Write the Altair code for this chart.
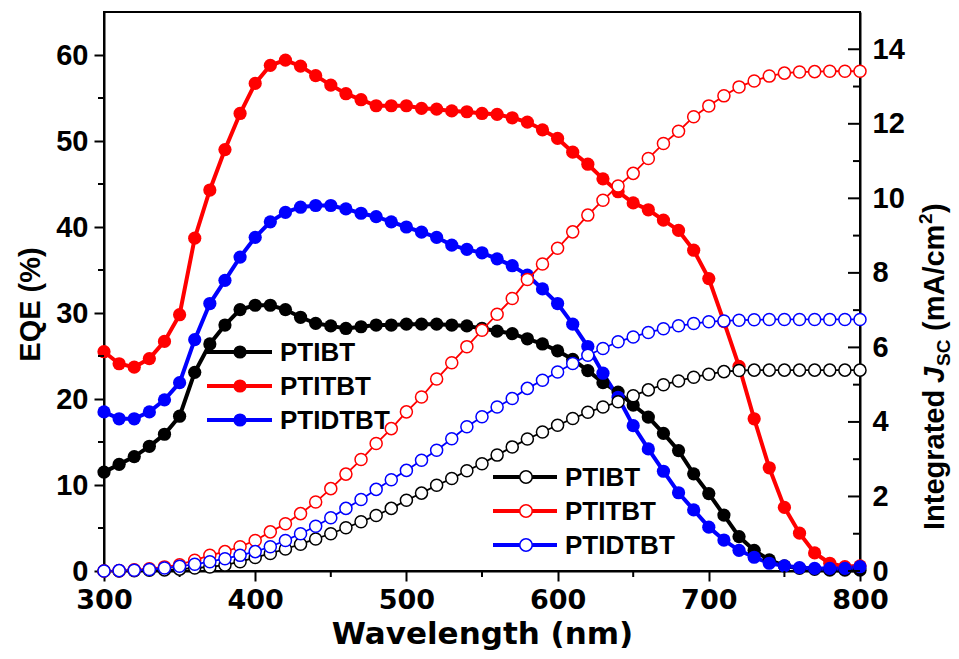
import altair as alt
import pandas as pd

wavelength = list(range(300, 801, 10))
names = ["PTIBT", "PTITBT", "PTIDTBT"]
colors = ["#000000", "#ff0000", "#0000ff"]

eqe_ptibt = [11.5, 12.4, 13.3, 14.5, 15.9, 18.0, 23.1, 26.4, 28.6, 30.4, 30.9, 30.9, 30.4, 29.5, 28.8,
             28.5, 28.2, 28.4, 28.6, 28.6, 28.7, 28.7, 28.7, 28.6, 28.5, 28.2, 27.9, 27.6, 27.0, 26.4,
             25.6, 24.6, 23.3, 21.9, 20.8, 19.3, 17.9, 16.0, 14.0, 11.3, 9.0, 6.5, 4.0, 2.4, 1.3,
             0.6, 0.3, 0.2, 0.1, 0.1, 0.1]
eqe_ptitbt = [25.5, 24.1, 23.7, 24.7, 26.7, 29.8, 38.7, 44.3, 49.0, 53.2, 56.7, 58.8, 59.4, 58.7, 57.6,
              56.5, 55.5, 54.8, 54.1, 54.1, 54.1, 53.8, 53.7, 53.5, 53.4, 53.2, 53.1, 52.7, 52.2, 51.3,
              50.3, 48.7, 47.3, 45.6, 44.1, 42.8, 42.0, 40.8, 39.6, 37.3, 34.0, 29.0, 23.8, 17.7, 12.0,
              7.4, 4.4, 2.1, 0.9, 0.5, 0.6]
eqe_ptidtbt = [18.5, 17.7, 17.7, 18.5, 19.9, 21.9, 26.9, 31.1, 33.8, 36.5, 38.8, 40.6, 41.7, 42.3, 42.5,
               42.5, 42.1, 41.6, 41.2, 40.6, 40.0, 39.4, 38.8, 37.9, 37.4, 37.0, 36.3, 35.5, 34.4, 32.8,
               31.1, 28.7, 26.1, 23.0, 20.2, 16.9, 14.2, 11.6, 9.1, 7.1, 5.1, 3.6, 2.4, 1.6, 0.9,
               0.6, 0.4, 0.3, 0.3, 0.3, 0.5]

jsc_ptibt = [0.00, 0.00, 0.01, 0.02, 0.03, 0.05, 0.08, 0.11, 0.16, 0.25, 0.36, 0.47, 0.59, 0.72, 0.86,
             1.00, 1.16, 1.32, 1.49, 1.68, 1.90, 2.09, 2.30, 2.48, 2.69, 2.88, 3.11, 3.33, 3.54, 3.73,
             3.91, 4.09, 4.26, 4.40, 4.54, 4.70, 4.86, 5.00, 5.10, 5.20, 5.28, 5.35, 5.38, 5.39, 5.39,
             5.39, 5.39, 5.39, 5.39, 5.39, 5.39]
jsc_ptitbt = [0.00, 0.01, 0.03, 0.06, 0.11, 0.17, 0.29, 0.42, 0.52, 0.65, 0.82, 1.05, 1.27, 1.54, 1.85,
              2.21, 2.60, 2.99, 3.42, 3.82, 4.27, 4.67, 5.15, 5.59, 6.02, 6.46, 6.89, 7.31, 7.82, 8.24,
              8.66, 9.10, 9.55, 9.95, 10.33, 10.67, 11.07, 11.47, 11.80, 12.19, 12.48, 12.75, 12.99, 13.15, 13.28,
              13.36, 13.39, 13.40, 13.41, 13.41, 13.41]
jsc_ptidtbt = [0.00, 0.01, 0.02, 0.04, 0.08, 0.13, 0.18, 0.25, 0.33, 0.42, 0.52, 0.65, 0.82, 1.00, 1.20,
               1.43, 1.68, 1.92, 2.19, 2.45, 2.70, 2.97, 3.24, 3.55, 3.87, 4.14, 4.40, 4.63, 4.90, 5.12,
               5.34, 5.57, 5.79, 5.97, 6.15, 6.28, 6.40, 6.50, 6.58, 6.64, 6.69, 6.71, 6.73, 6.74, 6.75,
               6.75, 6.75, 6.75, 6.75, 6.75, 6.75]

x_ticks = [300, 400, 500, 600, 700, 800]
x_minor = [350, 450, 550, 650, 750]
eqe_ticks = [0, 10, 20, 30, 40, 50, 60]
eqe_minor = [5, 15, 25, 35, 45, 55]
jsc_ticks = [0, 2, 4, 6, 8, 10, 12, 14]
jsc_minor = [1, 3, 5, 7, 9, 11, 13]

right_title_parts = ["Integrated", "J", "SC", "(mA/cm", "2", ")"]

W, H = 756, 559
FONT = "Liberation Sans"

eqe_series = [eqe_ptibt, eqe_ptitbt, eqe_ptidtbt]
jsc_series = [jsc_ptibt, jsc_ptitbt, jsc_ptidtbt]

rows = []
for name, e, j in zip(names, eqe_series, jsc_series):
    for w, ev, jv in zip(wavelength, e, j):
        rows.append({"nm": w, "eqe": ev, "jsc": jv, "series": name})
df = pd.DataFrame(rows)

xscale = alt.Scale(domain=[300, 800], nice=False)
yl_scale = alt.Scale(domain=[0, 65], nice=False)
yr_scale = alt.Scale(domain=[0, 15], nice=False)
cscale = alt.Scale(domain=names, range=colors)

x_enc = alt.X("nm:Q", scale=xscale,
              axis=alt.Axis(values=x_ticks, title="Wavelength (nm)", format="d",
                            tickSize=10, labelPadding=6, titlePadding=6, labelFlush=False,
                            labelFont="DejaVu Sans", titleFont="DejaVu Sans",
                            labelFontSize=27, titleFontSize=31))
yl_enc = alt.Y("eqe:Q", scale=yl_scale,
               axis=alt.Axis(values=eqe_ticks, title="EQE (%)", tickSize=10, labelFlush=False,
                             labelPadding=6, titlePadding=10, titleY=292))
yr_enc = alt.Y("jsc:Q", scale=yr_scale,
               axis=alt.Axis(values=jsc_ticks, title=None, orient="right", ticks=False,
                             labelFlush=False, labelPadding=12))
c_enc = alt.Color("series:N", scale=cscale, legend=None)

base = alt.Chart(df)
eqe_line = base.mark_line(strokeWidth=4).encode(x=x_enc, y=yl_enc, color=c_enc)
eqe_pts = base.mark_circle(size=175, opacity=1).encode(x=x_enc, y=yl_enc, color=c_enc)

jsc_line = base.mark_line(strokeWidth=1.8).encode(x=alt.X("nm:Q", scale=xscale), y=yr_enc, color=c_enc)
jsc_pts = base.mark_point(shape="circle", filled=False, fill="white", fillOpacity=1, size=145,
                          strokeWidth=1.5, opacity=1).encode(x=alt.X("nm:Q", scale=xscale), y=yr_enc, color=c_enc)

# minor / inward ticks drawn through the scales
left_minor = alt.Chart(pd.DataFrame({"v": eqe_minor})).mark_rule(color="black", strokeWidth=2).encode(
    y=alt.Y("v:Q", scale=yl_scale), x=alt.value(-6), x2=alt.value(0))
bottom_minor = alt.Chart(pd.DataFrame({"v": x_minor})).mark_rule(color="black", strokeWidth=2).encode(
    x=alt.X("v:Q", scale=xscale), y=alt.value(H), y2=alt.value(H + 6))
right_major = alt.Chart(pd.DataFrame({"v": jsc_ticks})).mark_rule(color="black", strokeWidth=2).encode(
    y=alt.Y("v:Q", scale=yr_scale), x=alt.value(W - 12), x2=alt.value(W))
right_minor = alt.Chart(pd.DataFrame({"v": jsc_minor})).mark_rule(color="black", strokeWidth=2).encode(
    y=alt.Y("v:Q", scale=yr_scale), x=alt.value(W - 7), x2=alt.value(W))

left_group = alt.layer(eqe_line, eqe_pts, left_minor, bottom_minor)
right_group = alt.layer(jsc_line, jsc_pts, right_major, right_minor)

# legends
legend_layers = []
for i, (name, col) in enumerate(zip(names, colors)):
    d = pd.DataFrame({"series": [name]})
    y1 = 340 + i * 34
    legend_layers.append(alt.Chart(d).mark_rule(color=col, strokeWidth=4).encode(
        x=alt.value(103), x2=alt.value(168), y=alt.value(y1)))
    legend_layers.append(alt.Chart(d).mark_circle(color=col, size=175, opacity=1).encode(
        x=alt.value(136), y=alt.value(y1)))
    legend_layers.append(alt.Chart(d).mark_text(align="left", baseline="middle", font=FONT,
                                                fontSize=26, fontWeight="bold", color="black").encode(
        x=alt.value(176), y=alt.value(y1 + 1), text="series:N"))
    y2 = 465 + i * 34
    legend_layers.append(alt.Chart(d).mark_rule(color=col, strokeWidth=4).encode(
        x=alt.value(389), x2=alt.value(453), y=alt.value(y2)))
    legend_layers.append(alt.Chart(d).mark_point(shape="circle", filled=False, fill="white", fillOpacity=1,
                                                 color=col, size=155, strokeWidth=1.5, opacity=1).encode(
        x=alt.value(422), y=alt.value(y2)))
    legend_layers.append(alt.Chart(d).mark_text(align="left", baseline="middle", font=FONT,
                                                fontSize=26, fontWeight="bold", color="black").encode(
        x=alt.value(461), y=alt.value(y2 + 1), text="series:N"))

# right axis title built from pieces (italic J, subscript SC, superscript 2)
tx = W + 84
piece_specs = [
    (right_title_parts[0], 29, "normal", 0, 518),
    (right_title_parts[1], 29, "italic", 0, 371),
    (right_title_parts[2], 19, "normal", 6, 354),
    (right_title_parts[3], 29, "normal", 0, 319),
    (right_title_parts[4], 19, "normal", -12, 212),
    (right_title_parts[5], 29, "normal", 0, 201),
]
title_layers = []
for t, fs, style, dx, yy in piece_specs:
    title_layers.append(alt.Chart(pd.DataFrame({"t": [t]})).mark_text(
        angle=270, align="left", baseline="alphabetic", font=FONT, fontSize=fs,
        fontWeight="bold", fontStyle=style, color="black").encode(
        x=alt.value(tx + dx), y=alt.value(yy), text="t:N"))

chart = alt.layer(left_group, right_group, *legend_layers, *title_layers).resolve_scale(
    y="independent"
).properties(
    width=W, height=H,
    padding={"left": 104, "top": 12, "right": 99, "bottom": 88},
    autosize=alt.AutoSizeParams(type="none"),
    background="white",
).configure_view(stroke="black", strokeWidth=2).configure_axis(
    grid=False, domainColor="black", domainWidth=2, tickColor="black", tickWidth=2,
    labelFont=FONT, labelFontSize=29, labelFontWeight="bold", labelColor="black",
    titleFont=FONT, titleFontSize=29, titleFontWeight="bold", titleColor="black",
)

chart.save("out.html", embed_options={"renderer": "svg", "actions": False})
